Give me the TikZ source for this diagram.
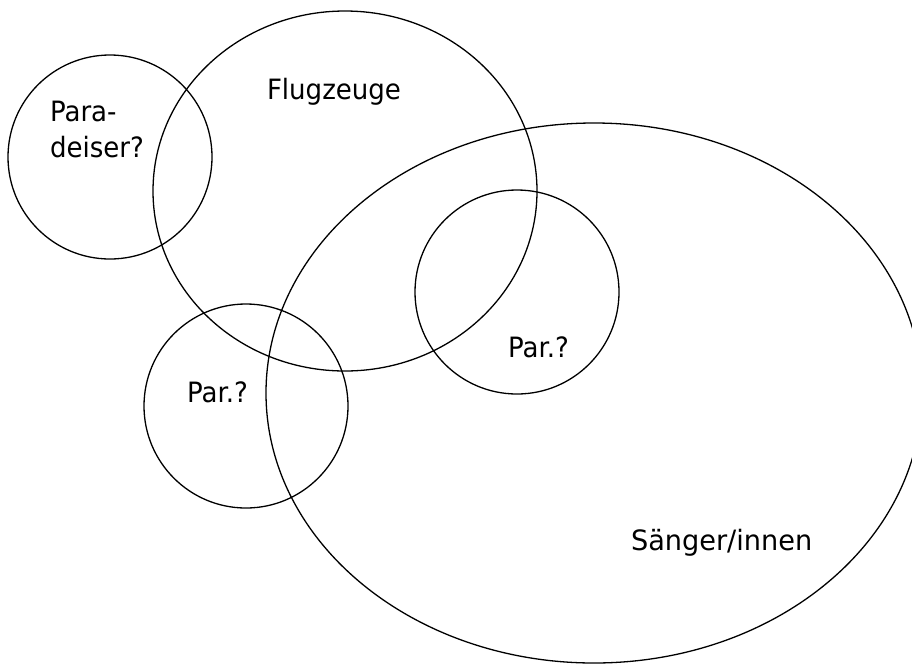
\documentclass[tikz,border=0pt]{standalone}
\usepackage{fontspec}
\setmainfont{DejaVu Sans}[FakeStretch=0.93]
\usetikzlibrary{shapes.geometric}
\begin{document}
\begin{tikzpicture}[x=1pt,y=-1pt,
  setshape/.style={draw, line width=1.3pt, inner sep=0pt, outer sep=0pt},
  lbl/.style={anchor=base west, inner sep=0pt, outer sep=0pt, font=\fontsize{28}{36}\selectfont}]
\useasboundingbox (0,0) rectangle (912,665);
\fill[white] (0,0) rectangle (912,665);
\clip (0,0) rectangle (912,665);
\node[setshape, ellipse, minimum width=656pt, minimum height=540pt] (saenger) at (594,393) {};
\node[setshape, ellipse, minimum width=384pt, minimum height=360pt] (flug) at (345,191) {};
\node[setshape, circle, minimum size=204pt] (para) at (110,157) {};
\node[setshape, circle, minimum size=204pt] (parR) at (517,292) {};
\node[setshape, circle, minimum size=204pt] (parL) at (246,406) {};
\node[lbl] (paraA) at (50,121) {Para-};
\node[lbl] (paraB) at (50,157) {deiser?};
\node[lbl] (flugT) at (267,99) {Flugzeuge};
\node[lbl] (parRT) at (508,357) {Par.?};
\node[lbl] (parLT) at (187,402) {Par.?};
\node[lbl] (saengerT) at (631,550) {\addfontfeatures{FakeStretch=0.97}Sänger/innen};
\end{tikzpicture}
\end{document}
